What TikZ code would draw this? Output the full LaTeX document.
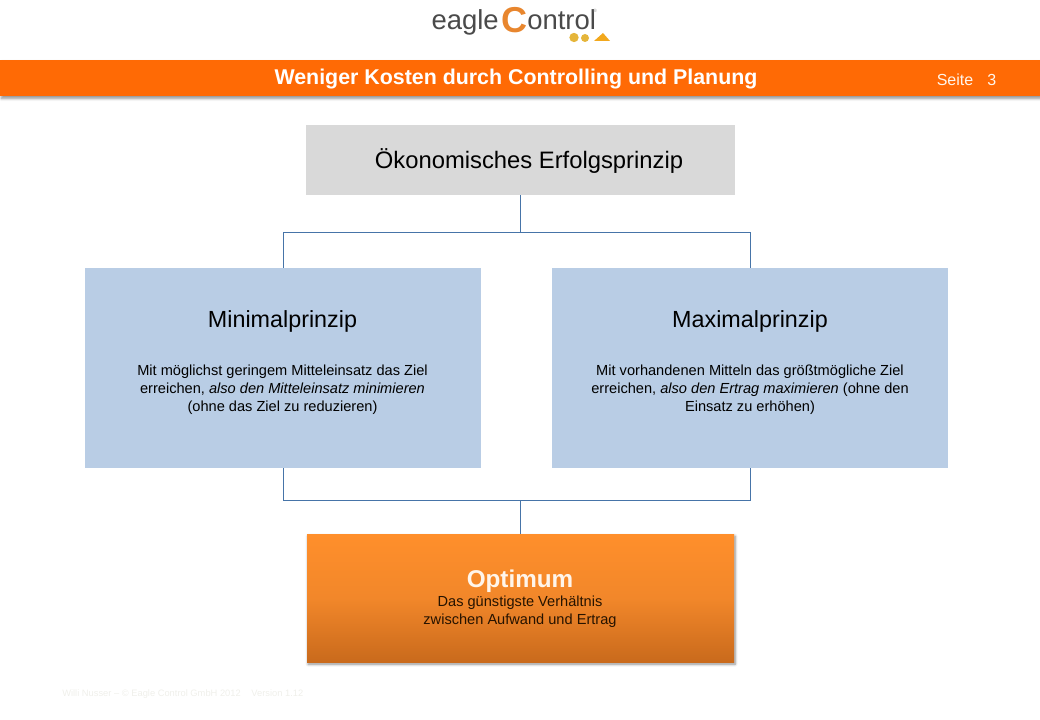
\documentclass[tikz,border=0pt]{standalone}
\usepackage{fontspec}
\setmainfont{Liberation Sans}
\usetikzlibrary{shadows.blur}
\definecolor{bandorange}{HTML}{FF6A05}
\definecolor{boxgrey}{HTML}{D9D9D9}
\definecolor{boxblue}{HTML}{B9CDE5}
\definecolor{linkblue}{HTML}{4674A8}
\definecolor{opttop}{HTML}{FF8F2B}
\definecolor{optmid}{HTML}{F2872A}
\definecolor{optbot}{HTML}{C96A1C}
\definecolor{logogrey}{HTML}{4A4A4A}
\definecolor{logoorange}{HTML}{E8862E}
\definecolor{footgrey}{HTML}{EFEFEA}
\definecolor{goldA}{HTML}{E5B53A}
\definecolor{goldB}{HTML}{F2A81D}
\pgfdeclareverticalshading{optfade}{100bp}{color(0bp)=(optbot); color(25bp)=(optbot); color(50bp)=(optmid); color(75bp)=(opttop); color(100bp)=(opttop)}
\tikzset{
  softshadow/.style={blur shadow={shadow xshift=.8pt,shadow yshift=-1.6pt,shadow blur radius=2pt,shadow blur steps=6,shadow opacity=45}},
  plainbox/.style={rectangle,inner sep=0pt,draw=none},
  link/.style={draw=linkblue,line width=.75pt},
  boxtitle/.style={inner sep=0pt,font=\fontsize{17.5}{21}\selectfont,black},
  boxbody/.style={inner sep=0pt,align=center,font=\fontsize{10.95}{13.6}\selectfont,black},
  blob/.style={circle,inner sep=0pt,minimum size=#1},
}
\begin{document}
\begin{tikzpicture}[x=.75pt,y=-.75pt]
\useasboundingbox (0,0) rectangle (1040,720);
% header band
\node[plainbox,fill=bandorange,minimum width=780pt,minimum height=27pt,softshadow,anchor=north west] (band) at (0,60) {};
\node[inner sep=0pt,white,font=\bfseries\fontsize{16.03}{18}\selectfont] (title) at (516,79.5) {Weniger Kosten durch Controlling und Planung};
\node[inner sep=0pt,white!92!orange,font=\fontsize{12}{14}\selectfont] (page) at (966.5,80) {Seite\hspace{10.5pt}3};
% logo
\node[inner sep=0pt,logogrey,font=\fontsize{20.6}{24}\selectfont,anchor=base east] (logoa) at (499,30) {eagle};
\node[inner sep=0pt,logoorange,font=\bfseries\fontsize{27}{30}\selectfont,anchor=base] (logob) at (514,33) {C};
\node[inner sep=0pt,logogrey,font=\fontsize{20.6}{24}\selectfont,anchor=base west] (logoc) at (527,30) {ontrol};
\node[inner sep=0pt,logogrey!60,font=\fontsize{3.5}{4}\selectfont] (logor) at (595,11) {®};
\node[blob=7pt,fill=goldA] (g1) at (574,37.5) {};
\node[blob=6pt,fill=goldA] (g2) at (585,38) {};
\fill[goldB] (594,41) -- (603,33) -- (610,41) -- cycle;
% boxes
\node[plainbox,fill=boxgrey,minimum width=321.75pt,minimum height=52.5pt] (top) at (520.5,160) {};
\node[inner sep=0pt,font=\fontsize{17.85}{21}\selectfont] (toptext) at (529,161) {Ökonomisches Erfolgsprinzip};
\node[plainbox,fill=boxblue,minimum width=297pt,minimum height=150pt] (left) at (283,368) {};
\node[plainbox,fill=boxblue,minimum width=297pt,minimum height=150pt] (right) at (750,368) {};
\node[plainbox,shading=optfade,minimum width=320.25pt,minimum height=96pt,softshadow] (opt) at (520.5,598) {};
% connectors
\coordinate (busa) at (520.5,232.5);
\coordinate (busb) at (520.5,500.5);
\draw[link] (top.south) -- (busa);
\draw[link] (left.north) |- (busa) -| (right.north);
\draw[link] (left.south) |- (busb) -| (right.south);
\draw[link] (busb) -- (opt.north);
% box texts
\node[boxtitle] (lefttitle) at (282.5,321) {Minimalprinzip};
\node[boxbody] (leftbody) at (282.5,390) {Mit möglichst geringem Mitteleinsatz das Ziel\\erreichen, \textit{also den Mitteleinsatz minimieren}\\(ohne das Ziel zu reduzieren)};
\node[boxtitle] (righttitle) at (750,321) {Maximalprinzip};
\node[boxbody] (rightbody) at (750,390) {Mit vorhandenen Mitteln das größtmögliche Ziel\\erreichen, \textit{also den Ertrag maximieren} (ohne den\\Einsatz zu erhöhen)};
\node[inner sep=0pt,white!92!orange,font=\bfseries\fontsize{18.2}{22}\selectfont] (opttitle) at (520,581) {Optimum};
\node[boxbody,text=black!85!orange] (optbody) at (520,611.5) {Das günstigste Verhältnis\\zwischen Aufwand und Ertrag};
% footer
\node[inner sep=0pt,footgrey,font=\fontsize{7}{8}\selectfont,anchor=west] (foot) at (62,694) {Willi Nusser – © Eagle Control GmbH 2012\hspace{8pt}Version 1.12};
\end{tikzpicture}
\end{document}
